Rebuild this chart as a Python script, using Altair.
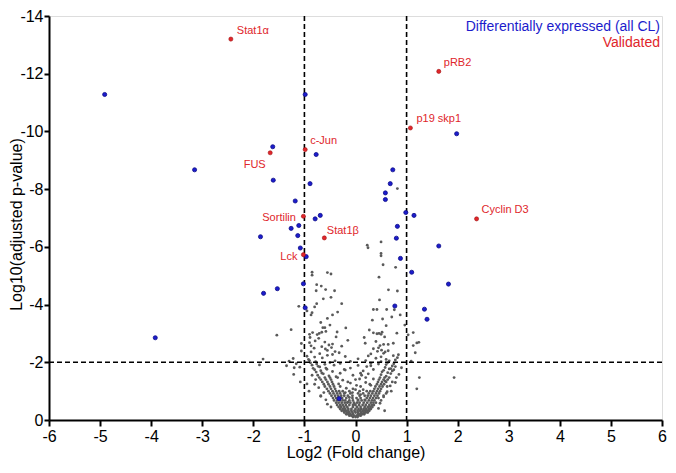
import altair as alt
import pandas as pd

FONT = "Liberation Sans"
RED = "#e0262b"
BLUE = "#1c1ccc"
GRAY = "#5a5a5a"

# Validated (red) proteins
red_labels = ["Stat1α", "pRB2", "p19 skp1", "c-Jun", "FUS", "Sortilin", "Stat1β", "Lck", "Cyclin D3"]
red_x = [-2.44, 1.63, 1.075, -0.985, -1.67, -1.02, -0.61, -1.02, 2.37]
red_y = [-13.2, -12.08, -10.12, -9.37, -9.26, -7.06, -6.31, -5.73, -6.97]

# Differentially expressed (blue)
blue_x = [-4.91, -0.985, -3.15, -1.62, -0.77, -1.61, -0.89, -1.18, -0.69, -0.79, -1.11, -1.26,
          -1.86, -1.13, -1.08, -0.965, -1.02, -1.53, -1.80, -0.985, -3.92, -0.32,
          1.98, 0.73, 0.68, 0.585, 0.585, 0.985, 1.145, 0.82, 0.80, 0.88, 1.63, 1.10,
          1.82, 0.77, 1.35, 1.40]
blue_y = [-11.28, -11.28, -8.67, -9.47, -9.20, -8.31, -8.19, -7.59, -7.09, -6.97, -6.74, -6.64,
          -6.35, -6.39, -5.96, -5.66, -4.72, -4.55, -4.39, -3.89, -2.85, -0.74,
          -9.92, -8.67, -8.19, -7.87, -7.64, -7.19, -7.09, -6.71, -6.30, -5.60, -6.03, -5.12,
          -4.71, -3.95, -3.84, -3.49]

# Non-significant proteins (gray): scattered points
gray_pairs = [
    (-0.85, -5.12), (-0.85, -5.02), (-0.55, -5.11), (-0.48, -5.06), (-0.76, -4.69), (-0.67, -4.64),
    (-0.77, -4.48), (-0.585, -4.52), (-0.41, -4.48), (-0.63, -4.20), (-0.48, -4.25), (-0.27, -4.03),
    (-0.76, -4.03), (-1.11, -3.94), (-0.80, -3.92), (-0.95, -3.78), (-0.85, -3.72), (-0.87, -3.64),
    (-0.35, -3.74), (-0.45, -3.64), (-0.55, -3.52), (-0.68, -3.38), (-0.50, -3.29), (-0.64, -3.20),
    (-0.60, -3.20), (-0.19, -3.19), (-1.26, -3.13),
    (0.82, -8.02), (0.23, -6.06), (0.245, -5.97), (0.50, -6.17), (0.50, -5.77), (0.50, -5.69),
    (0.54, -5.38), (0.785, -5.29), (0.46, -4.95), (0.645, -4.51), (0.82, -4.47), (0.47, -4.16),
    (0.35, -3.83), (0.42, -3.83), (0.61, -3.83), (0.76, -3.82), (0.875, -3.64), (0.71, -3.57),
    (0.53, -3.50), (0.33, -3.46), (0.60, -3.27), (0.965, -3.29), (0.27, -3.12),
    (-1.21, -1.58), (-0.74, -1.55), (-0.63, -1.60), (-0.52, -1.53), (0.50, -1.57), (0.60, -1.52), (0.69, -1.61),
    (-0.77, -1.66), (-0.66, -1.63), (-0.45, -1.68), (0.10, -1.62), (0.52, -1.67), (0.63, -1.64), (0.72, -1.70),
    (-0.80, -1.74), (-0.68, -1.71), (-0.56, -1.76), (-0.20, -1.73), (0.35, -1.75), (0.55, -1.72), (0.66, -1.77),
    (0.75, -1.74), (-1.20, -1.81), (-1.09, -1.83), (-0.83, -1.79), (-0.70, -1.84), (-0.58, -1.80), (0.58, -1.82),
    (0.69, -1.78), (0.78, -1.85), (0.90, -1.81), (-1.88, -1.91), (-1.35, -1.88), (-0.85, -1.90), (-0.73, -1.86),
    (-0.60, -1.93), (0.05, -1.89), (0.60, -1.92), (0.72, -1.87), (-1.16, -1.95), (-0.88, -1.98), (-0.76, -1.94),
    (-0.50, -1.99), (-0.30, -1.96), (0.30, -1.97), (0.45, -1.94), (0.63, -1.99), (0.75, -1.95),
    (-2.35, -2.02), (-1.30, -2.04), (-0.90, -2.06), (-0.78, -2.02), (-0.40, -2.05), (-0.10, -2.03), (0.20, -2.06),
    (0.50, -2.02), (0.66, -2.05), (0.78, -2.08), (1.09, -2.04), (-1.81, -2.11), (-1.22, -2.13), (-0.92, -2.10),
    (-0.65, -2.15), (0.05, -2.12), (0.40, -2.14), (0.60, -2.10), (0.82, -2.16), (-0.95, -2.21), (-0.80, -2.18),
    (-0.55, -2.24), (-0.20, -2.20), (0.25, -2.22), (0.50, -2.19), (0.74, -2.23), (-0.70, -2.30), (-0.45, -2.27),
    (-0.32, -2.33), (0.30, -2.29), (0.55, -2.31), (0.84, -2.26), (-1.06, -2.39), (-0.87, -2.36), (-0.55, -2.41),
    (-0.40, -2.37), (0.43, -2.38), (0.51, -2.42), (0.58, -2.36), (0.64, -2.40), (1.17, -2.33), (-0.81, -2.49),
    (-0.59, -2.46), (-0.47, -2.51), (0.35, -2.47), (0.45, -2.50), (-0.87, -2.57), (-0.66, -2.54), (-0.52, -2.60),
    (-0.27, -2.56), (0.48, -2.58), (0.55, -2.62), (1.13, -2.58), (-1.06, -2.65), (-0.90, -2.68), (-0.45, -2.63),
    (0.19, -2.66), (0.64, -2.62), (0.74, -2.66), (-0.79, -2.74), (-0.60, -2.70), (-0.15, -2.76), (0.40, -2.72),
    (1.20, -2.67), (1.24, -2.69), (-0.89, -2.86), (-0.72, -2.83), (-0.38, -2.88), (0.17, -2.86), (0.57, -2.88),
    (-1.54, -2.94), (-0.90, -2.97), (-0.75, -2.96), (-0.71, -3.00), (0.42, -2.99), (0.50, -2.97), (1.03, -2.95),
    (-0.84, -3.03), (-0.66, -3.04), (-0.58, -3.07), (-0.36, -3.05), (0.35, -3.02), (0.46, -3.00), (0.52, -3.04),
    (0.81, -3.01), (1.13, -3.03),
    (-0.02, -0.55), (0.05, -0.70), (-0.12, -0.78), (0.10, -0.88), (-0.06, -0.95), (0.15, -1.05), (-0.18, -1.10),
    (0.02, -1.20), (-0.10, -1.28), (0.20, -1.30), (-0.25, -1.38), (0.08, -1.42), (-0.05, -1.55), (0.25, -1.60),
    (-0.30, -1.62), (0.15, -1.70), (-0.10, -1.80), (0.22, -1.85), (-0.38, -1.50), (0.35, -1.42), (-0.20, -0.95),
    (0.18, -0.70), (-0.15, -0.62), (0.30, -1.20), (-0.33, -1.25), (0.00, -1.05), (0.12, -1.55), (-0.22, -1.75),
    (0.30, -1.88), (-0.42, -1.90),
    (-0.58, -0.70), (-0.62, -0.95), (-0.72, -1.12), (-0.55, -0.55), (-0.78, -1.40), (-0.85, -1.55), (-0.95, -1.25),
    (-0.68, -0.82), (0.48, -0.58), (0.55, -0.80), (0.62, -0.98), (0.68, -1.18), (0.78, -1.30), (0.85, -1.58),
    (0.58, -1.35), (0.45, -0.40),
]

# Non-significant proteins (gray): dense cloud near the origin, as (y, [x ...]) rows
gray_rows = [
    (-0.10, [-0.05, 0.0, 0.04]),
    (-0.15, [-0.12, -0.08, -0.03, 0.02, 0.06, 0.10]),
    (-0.20, [-0.18, -0.14, -0.10, -0.05, 0.05, 0.09, 0.13, 0.17]),
    (-0.26, [-0.22, -0.17, -0.12, -0.06, 0.0, 0.05, 0.11, 0.16, 0.20, 0.24]),
    (-0.32, [-0.27, -0.23, -0.19, -0.14, -0.08, -0.02, 0.04, 0.09, 0.14, 0.19, 0.23, 0.27, 0.57]),
    (-0.38, [-0.30, -0.25, -0.20, -0.14, -0.08, 0.0, 0.06, 0.11, 0.16, 0.21, 0.26, 0.30]),
    (-0.45, [-0.48, -0.33, -0.28, -0.22, -0.16, -0.05, 0.03, 0.10, 0.18, 0.24, 0.29, 0.33]),
    (-0.52, [-0.36, -0.30, -0.25, -0.19, -0.12, -0.05, 0.00, 0.07, 0.14, 0.20, 0.27, 0.32, 0.36]),
    (-0.60, [-0.38, -0.33, -0.27, -0.21, -0.16, -0.10, -0.03, 0.03, 0.08, 0.16, 0.23, 0.30, 0.35, 0.40]),
    (-0.68, [-0.42, -0.36, -0.30, -0.25, -0.20, -0.12, -0.05, 0.05, 0.12, 0.19, 0.26, 0.32, 0.37, 0.50]),
    (-0.76, [-0.44, -0.38, -0.32, -0.26, -0.18, -0.06, 0.02, 0.10, 0.22, 0.28, 0.34, 0.40, 0.45]),
    (-0.84, [-0.68, -0.47, -0.40, -0.34, -0.28, -0.22, -0.15, -0.06, 0.08, 0.18, 0.24, 0.30, 0.37, 0.43, 0.55]),
    (-0.92, [-0.50, -0.43, -0.36, -0.30, -0.22, -0.10, 0.05, 0.15, 0.26, 0.33, 0.40, 0.46, 0.60]),
    (-1.00, [-0.91, -0.53, -0.45, -0.38, -0.32, -0.25, -0.12, 0.08, 0.22, 0.29, 0.35, 0.42, 0.48, 0.70]),
    (-1.08, [-0.56, -0.48, -0.40, -0.05, 0.37, 0.44, 0.50, 1.20]),
    (-1.16, [-0.60, -0.50, -0.42, -0.30, 0.10, 0.39, 0.47, 0.53, 0.62]),
    (-1.24, [-0.80, -0.62, -0.53, -0.44, 0.28, 0.42, 0.50, 0.56]),
    (-1.32, [-1.08, -0.65, -0.55, -0.46, -0.15, 0.44, 0.52, 0.60, 0.72]),
    (-1.40, [-0.68, -0.58, -0.48, 0.00, 0.46, 0.55, 0.63]),
    (-1.47, [-0.71, -0.60, -0.50, -0.35, 0.20, 0.48, 0.57, 0.66, 0.80, 1.25, 1.93]),
]

x_ticks = [-6, -5, -4, -3, -2, -1, 0, 1, 2, 3, 4, 5, 6]
y_ticks = [0, -2, -4, -6, -8, -10, -12, -14]
fc_cut = [-1, 1]
p_cut = [-2]

gx = [p[0] for p in gray_pairs] + [x for y, xs in gray_rows for x in xs]
gy = [p[1] for p in gray_pairs] + [y for y, xs in gray_rows for _ in xs]
gray_df = pd.DataFrame({"x": gx, "y": gy})
blue_df = pd.DataFrame({"x": blue_x, "y": blue_y})
red_df = pd.DataFrame({"x": red_x, "y": red_y, "label": red_labels})

W, H = 613, 404

axis_common = dict(
    grid=False, domainColor="black", domainWidth=2, tickColor="black", tickWidth=2,
    labelFont=FONT, titleFont=FONT, labelFontSize=16, titleFontSize=16,
    titleFontWeight="normal", labelColor="black", titleColor="black",
    labelFlush=False, labelOverlap=False, labelExpr="datum.value + ''",
)

X = alt.X("x:Q", scale=alt.Scale(domain=[-6, 6], nice=False, zero=False),
          axis=alt.Axis(values=x_ticks, title="Log2 (Fold change)", tickSize=6,
                        labelPadding=2, titleBaseline="alphabetic", titleY=37, **axis_common))
Y = alt.Y("y:Q", scale=alt.Scale(domain=[-14, 0], reverse=True, nice=False, zero=False),
          axis=alt.Axis(values=y_ticks, title="Log10(adjusted p-value)", tickSize=5,
                        labelPadding=1, titleBaseline="alphabetic", titleX=-28,
                        titleY=H / 2 + 6, **axis_common))

gray = alt.Chart(gray_df).mark_circle(size=8, color=GRAY, opacity=1).encode(x=X, y=Y)

vrules = alt.Chart(pd.DataFrame({"x": fc_cut})).mark_rule(
    color="black", strokeDash=[5, 3], strokeWidth=1.6).encode(x=X)
hrule = alt.Chart(pd.DataFrame({"y": p_cut})).mark_rule(
    color="black", strokeDash=[5, 3], strokeWidth=1.6).encode(y=Y)

blue = alt.Chart(blue_df).mark_point(
    shape="circle", filled=True, size=17, fill=BLUE, stroke="#0c0c88", strokeWidth=0.8, opacity=1
).encode(x=X, y=Y)
red = alt.Chart(red_df).mark_point(
    shape="circle", filled=True, size=17, fill=RED, stroke="#a01010", strokeWidth=0.6, opacity=1
).encode(x=X, y=Y)

label_style = {
    "Stat1α": ("left", 6, -5),
    "pRB2": ("left", 5, -5.5),
    "p19 skp1": ("left", 6, -6),
    "c-Jun": ("left", 5, -6),
    "FUS": ("right", -4.5, 15),
    "Sortilin": ("right", -7.5, 4.5),
    "Stat1β": ("left", 2.5, -3.5),
    "Lck": ("right", -6, 5),
    "Cyclin D3": ("left", 5, -6),
}
label_layers = []
for name, (al, dx, dy) in label_style.items():
    label_layers.append(
        alt.Chart(red_df).transform_filter(alt.datum.label == name).mark_text(
            align=al, baseline="alphabetic", dx=dx, dy=dy, fontSize=11, font=FONT, color=RED
        ).encode(x=X, y=Y, text="label:N")
    )

legend_df = pd.DataFrame({"t": ["Differentially expressed (all CL)", "Validated"]})
leg1 = alt.Chart(legend_df).transform_filter(alt.datum.t == "Differentially expressed (all CL)").mark_text(
    align="right", baseline="alphabetic", fontSize=14, font=FONT, color=BLUE
).encode(x=alt.value(W - 2), y=alt.value(15), text="t:N")
leg2 = alt.Chart(legend_df).transform_filter(alt.datum.t == "Validated").mark_text(
    align="right", baseline="alphabetic", fontSize=14, font=FONT, color=RED
).encode(x=alt.value(W - 2), y=alt.value(31), text="t:N")

chart = alt.layer(gray, vrules, hrule, blue, red, *label_layers, leg1, leg2).properties(
    width=W, height=H,
    autosize=alt.AutoSizeParams(type="none"),
    padding={"left": 41, "top": 8, "right": 6, "bottom": 43},
).configure_view(stroke="black", strokeWidth=2).configure(background="white")

chart.save("out.html", embed_options={"renderer": "svg", "actions": False})
